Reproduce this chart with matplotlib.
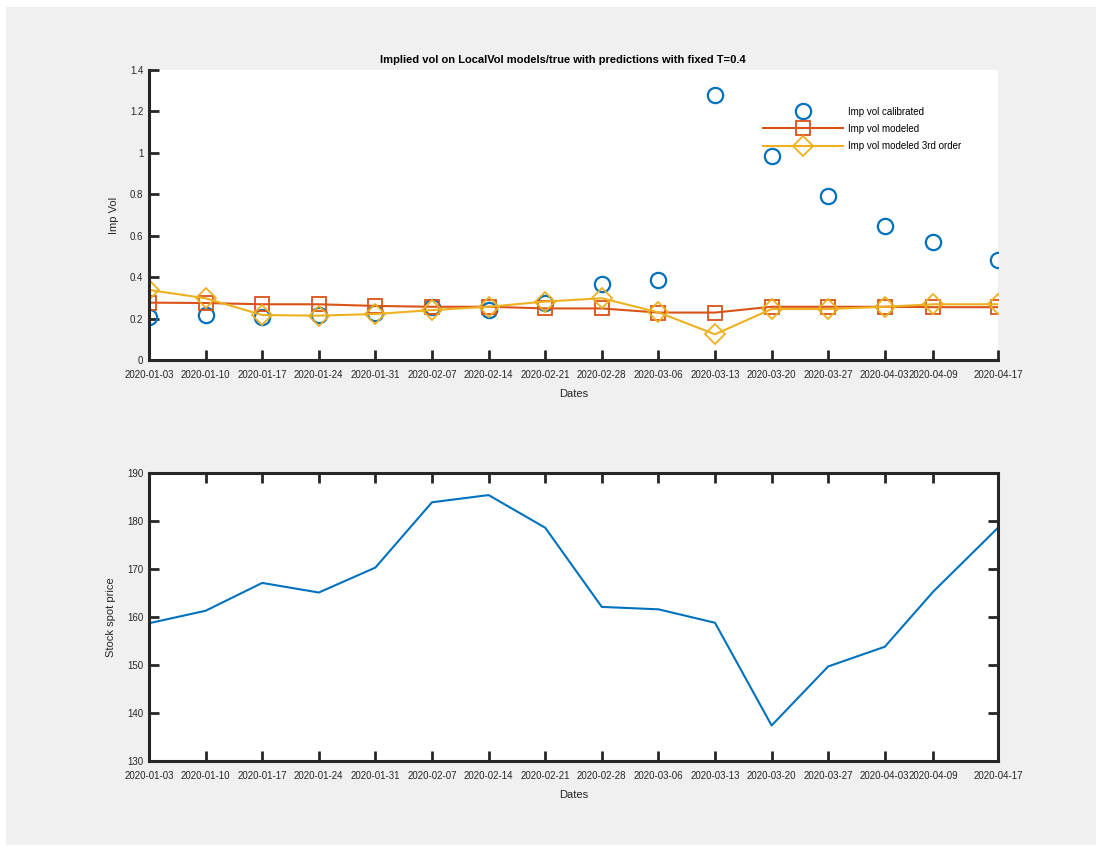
import numpy as np
import matplotlib
matplotlib.use('Agg')
import matplotlib.pyplot as plt
import matplotlib.dates as mdates
from matplotlib.patches import Rectangle

plt.rcParams['font.family'] = ['Liberation Sans', 'DejaVu Sans']

# weekly observation dates (04-09 is a Thursday: Good Friday close)
dates = np.array(['2020-01-03', '2020-01-10', '2020-01-17', '2020-01-24',
                  '2020-01-31', '2020-02-07', '2020-02-14', '2020-02-21',
                  '2020-02-28', '2020-03-06', '2020-03-13', '2020-03-20',
                  '2020-03-27', '2020-04-03', '2020-04-09', '2020-04-17'],
                 dtype='datetime64[D]')

impVolCalibrated = [0.209, 0.217, 0.209, 0.217, 0.225, 0.257, 0.241, 0.274,
                    0.365, 0.386, 1.280, 0.987, 0.794, 0.647, 0.568, 0.481]
impVolModeled = [0.277, 0.275, 0.269, 0.269, 0.261, 0.257, 0.257, 0.249,
                 0.249, 0.229, 0.229, 0.257, 0.257, 0.257, 0.255, 0.255]
impVolModeled3 = [0.338, 0.298, 0.217, 0.214, 0.222, 0.241, 0.257, 0.282,
                  0.298, 0.230, 0.124, 0.246, 0.246, 0.257, 0.269, 0.269]
spotPrice = [158.7, 161.3, 167.1, 165.1, 170.3, 183.9, 185.4, 178.6,
             162.1, 161.6, 158.8, 137.4, 149.7, 153.8, 165.3, 178.6]

blue = '#0072BD'
orange = '#D95319'
yellow = '#EDB120'
axcol = '#262626'

fig = plt.figure(figsize=(10.96, 8.46), dpi=100)
fig.patch.set_facecolor('white')
fig.patches.append(Rectangle((6 / 1096, 1 / 846), 1, 1 - 8 / 846, transform=fig.transFigure,
                             facecolor='#f0f0f0', edgecolor='none', zorder=-10))

ax1 = fig.add_axes([149 / 1096, 486 / 846, 849 / 1096, 290 / 846])
ax2 = fig.add_axes([149 / 1096, 85 / 846, 849 / 1096, 288 / 846])

def styleAxis(ax, box):
    ax.set_facecolor('white')
    for side in ['left', 'bottom', 'top', 'right']:
        ax.spines[side].set_color(axcol)
        ax.spines[side].set_linewidth(2.2)
        ax.spines[side].set_visible(box or side in ['left', 'bottom'])
    ax.tick_params(direction='in', length=7.5, width=2.0, color=axcol,
                   labelcolor=axcol, labelsize=7, top=box, right=box)
    ax.tick_params(axis='x', pad=7)
    ax.tick_params(axis='y', pad=4)
    ax.set_xticks(dates)
    ax.xaxis.set_major_formatter(mdates.DateFormatter('%Y-%m-%d'))
    ax.set_xlim(dates[0], dates[-1])
    ax.set_xlabel('Dates', fontsize=8, color=axcol, labelpad=7)

# implied vol panel
ax1.plot(dates, impVolCalibrated, linestyle='none', marker='o', markersize=11,
         markerfacecolor='none', markeredgecolor=blue, markeredgewidth=1.6,
         label='Imp vol calibrated')
ax1.plot(dates, impVolModeled, color=orange, linewidth=1.5, marker='s', markersize=10,
         markerfacecolor='none', markeredgewidth=1.3, label='Imp vol modeled')
ax1.plot(dates, impVolModeled3, color=yellow, linewidth=1.5, marker='D', markersize=10,
         markerfacecolor='none', markeredgewidth=1.3, label='Imp vol modeled 3rd order')
styleAxis(ax1, False)
ax1.set_ylim(0, 1.4)
ax1.set_yticks(np.arange(0, 1.41, 0.2))
ax1.set_yticklabels(['0', '0.2', '0.4', '0.6', '0.8', '1', '1.2', '1.4'])
ax1.set_ylabel('Imp Vol', fontsize=8, color=axcol, labelpad=8)
ax1.set_title('Implied vol on LocalVol models/true with predictions with fixed T=0.4',
              fontsize=8, fontweight='bold', color='black', pad=5, x=0.487)
ax1.legend(loc='upper left', bbox_to_anchor=(0.723, 0.874), frameon=False, fontsize=7,
           numpoints=1, handlelength=8.2, handletextpad=0.6, labelspacing=0.75,
           borderpad=0, borderaxespad=0)

# spot price panel
ax2.plot(dates, spotPrice, color=blue, linewidth=1.5)
styleAxis(ax2, True)
ax2.set_ylim(130, 190)
ax2.set_yticks(np.arange(130, 191, 10))
ax2.set_ylabel('Stock spot price', fontsize=8, color=axcol, labelpad=8)

fig.savefig('out.png', dpi=100)
